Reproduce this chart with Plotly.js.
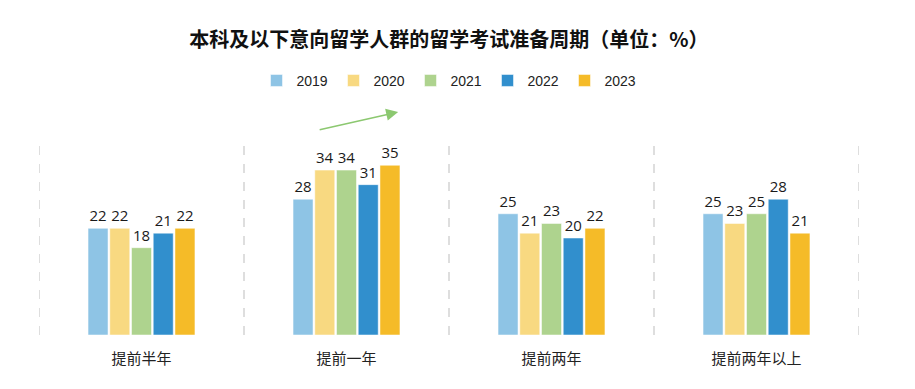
<!DOCTYPE html>
<html>
<head>
<meta charset="utf-8">
<script src="https://cdn.plot.ly/plotly-3.0.1.min.js"></script>
<style>html,body{margin:0;padding:0;background:#fff;}#chart{width:915px;height:389px;}</style>
</head>
<body>
<div id="chart"></div>
<script>
const categories = ["提前半年", "提前一年", "提前两年", "提前两年以上"];
const years = ["2019", "2020", "2021", "2022", "2023"];
const v2019 = [22, 28, 25, 25];
const v2020 = [22, 34, 21, 23];
const v2021 = [18, 34, 23, 25];
const v2022 = [21, 31, 20, 28];
const v2023 = [22, 35, 22, 21];
const seriesValues = [v2019, v2020, v2021, v2022, v2023];
const colors = ["#8EC4E5", "#F8D981", "#AED38E", "#318FCD", "#F5BB28"];

const xIdx = categories.map((c, i) => i);
const traces = years.map((y, k) => ({
  type: "bar",
  name: y,
  x: xIdx,
  y: seriesValues[k],
  text: seriesValues[k].map(String),
  textposition: "outside",
  cliponaxis: false,
  textfont: {family: "Open Sans, Liberation Sans, sans-serif", size: 15, color: "#1a1a1a"},
  marker: {color: colors[k], line: {color: "rgba(255,255,255,0.5)", width: 1}},
  hoverinfo: "none"
}));

const shapes = [-0.5, 0.5, 1.5, 2.5, 3.5].map(x => ({
  type: "line", xref: "x", yref: "y", x0: x, x1: x, y0: 0, y1: 40,
  line: {color: "#BDBDBD", width: 1, dash: "dash"}
}));

const layout = {
  width: 915, height: 389,
  margin: {l: 39, r: 56, t: 141, b: 54},
  paper_bgcolor: "#ffffff", plot_bgcolor: "rgba(0,0,0,0)",
  title: {
    text: "<b>本科及以下意向留学人群的留学考试准备周期（单位：%）</b>",
    font: {family: "Noto Sans CJK SC, sans-serif", size: 20, color: "#111"},
    x: 0.5, xref: "paper", xanchor: "center",
    y: 0.897, yref: "container", yanchor: "middle"
  },
  barmode: "group",
  bargap: 0.47,
  bargroupgap: 0.08,
  showlegend: true,
  legend: {
    orientation: "h", x: 0.5, xanchor: "center", xref: "paper",
    y: 1.31, yanchor: "middle",
    font: {family: "Liberation Sans, sans-serif", size: 14, color: "#222"},
    itemwidth: 30, traceorder: "normal",
    entrywidth: 32, entrywidthmode: "pixels"
  },
  xaxis: {
    range: [-0.5, 3.5],
    tickmode: "array", tickvals: xIdx, ticktext: categories,
    showgrid: false, zeroline: false, showline: false, ticks: "",
    ticklabelstandoff: 13,
    tickfont: {family: "Noto Sans CJK SC, sans-serif", size: 15, color: "#222"}
  },
  yaxis: {range: [0, 40], visible: false, showgrid: false, zeroline: false},
  shapes: shapes,
  annotations: [{
    xref: "paper", yref: "paper", x: 0.438, y: 1.149, ax: -80, ay: 18,
    axref: "pixel", ayref: "pixel",
    text: "", showarrow: true, arrowhead: 2, arrowsize: 1.5, arrowwidth: 1.6,
    arrowcolor: "#8CC870"
  }]
};

Plotly.newPlot("chart", traces, layout, {displayModeBar: false, staticPlot: true});
</script>
</body>
</html>
